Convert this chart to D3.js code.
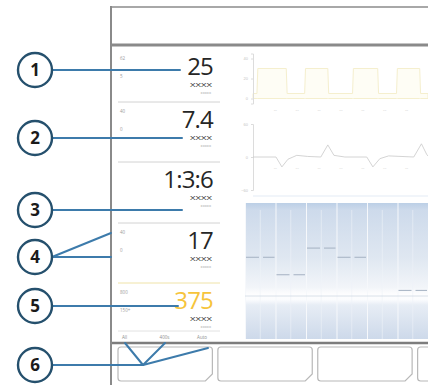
<!DOCTYPE html>
<html>
<head>
<meta charset="utf-8">
<script src="https://cdn.jsdelivr.net/npm/d3@7"></script>
<style>
  body { margin: 0; background: #fff; }
  svg { display: block; }
</style>
</head>
<body>
<div id="chart"></div>
<script>
// ---- data ----
const callouts = ["1", "2", "3", "4", "5", "6"];
const paramValues = ["25", "7.4", "1:3:6", "17", "375"];
const paramUnits = ["XXXX", "XXXX", "XXXX", "XXXX", "XXXX"];
const paramSubs = ["xxxxx", "xxxxx", "xxxxx", "xxxxx", "xxxxx"];
const limitHigh = ["62", "40", "", "40", "800"];
const limitLow = ["5", "0", "", "0", "150+"];
const footLabels = ["All", "400s", "Auto"];

const pressureTime = [0, 0.18, 0.22, 1.52, 1.56, 2.36, 2.4, 3.42, 3.46, 4.55, 4.59, 5.7, 5.74, 6.56, 6.6, 7.62, 7.66, 8];
const pressureValue = [5, 5, 30, 30, 5, 5, 30, 30, 5, 5, 30, 30, 5, 5, 30, 30, 5, 5];
const pressureTicks = [0, 20, 40];

const flowTime = [0, 1.05, 1.32, 1.6, 2.0, 2.5, 3.1, 3.42, 3.7, 4.2, 5.2, 5.48, 5.8, 6.2, 7.35, 7.7, 7.95, 8];
const flowValue = [0, 0, -18, -4, 3, 1, 0, 22, 3, 0, 0, -18, -3, 2, 0, 24, 4, 2];
const flowTicks = [-60, 0, 60];
const timeTicks = [1, 2, 3, 4, 5, 6, 7];

const volumeColumns = ["c1", "c2", "c3", "c4", "c5", "c6"];
const volumeLevels = [0.41, 0.22, 0.51, 0.41, null, 0.05];

const buttons = ["b1", "b2", "b3", "b4"];

// ---- layout ----
const W = 428, H = 385;
const frame = {left: 111, top: 7, header: 45, foot: 343};
const panelTops = [49, 102, 162, 223, 283];
const calloutY = [70, 138, 210, 257, 306, 365];
const lineColor = "#3d7bab";
const font = "'Open Sans', 'DejaVu Sans', sans-serif";

const svg = d3.select("#chart").append("svg")
  .attr("width", W).attr("height", H)
  .style("font-family", font);

const defs = svg.append("defs");
const grad = defs.append("linearGradient").attr("id", "vol")
  .attr("x1", 0).attr("y1", 0).attr("x2", 0).attr("y2", 1);
[["0%", "#bccfe6"], ["5%", "#cddaeb"], ["40%", "#dfe7f1"], ["62%", "#f2f5f9"],
 ["67%", "#fdfdfe"], ["71%", "#fbfcfe"], ["75%", "#e7edf5"], ["100%", "#cdd9ea"]]
  .forEach(([o, c]) => grad.append("stop").attr("offset", o).attr("stop-color", c));

// ---- waveform 1 (pressure) ----
const x = d3.scaleLinear().domain([0, 8]).range([253, 428]);
const yP = d3.scaleLinear().domain([-5, 45]).range([103.5, 53.5]);
const pData = pressureTime.map((t, i) => [t, pressureValue[i]]);

svg.append("path")
  .datum(pData)
  .attr("fill", "#fefdf5")
  .attr("stroke", "#f5efce")
  .attr("stroke-width", 1)
  .attr("d", d3.area().x(d => x(d[0])).y0(yP(0)).y1(d => yP(d[1])));

svg.append("g")
  .attr("transform", "translate(253,0)")
  .call(d3.axisLeft(yP).tickValues(pressureTicks).tickSize(2))
  .call(g => g.select(".domain").attr("stroke", "#dcdcdc"))
  .call(g => g.selectAll(".tick line").attr("stroke", "#dcdcdc"))
  .call(g => g.selectAll("text").attr("fill", "#c4c4c4").style("font-size", "4px"));

svg.append("g")
  .attr("transform", "translate(0,105)")
  .call(d3.axisBottom(x).tickValues(timeTicks).tickSize(0).tickFormat(() => "--"))
  .call(g => g.select(".domain").remove())
  .call(g => g.selectAll("text").attr("fill", "#d0d0d0").style("font-size", "5px"));

// ---- waveform 2 (flow) ----
const yF = d3.scaleLinear().domain([-60, 60]).range([190, 124]);
const fData = flowTime.map((t, i) => [t, flowValue[i]]);

svg.append("g")
  .attr("transform", "translate(253,0)")
  .call(d3.axisLeft(yF).tickValues(flowTicks).tickSize(2))
  .call(g => g.select(".domain").attr("stroke", "#dcdcdc"))
  .call(g => g.selectAll(".tick line").attr("stroke", "#dcdcdc"))
  .call(g => g.selectAll("text").attr("fill", "#c4c4c4").style("font-size", "4px"));

svg.append("line")
  .attr("x1", 253).attr("x2", 428).attr("y1", 196).attr("y2", 196)
  .attr("stroke", "#f1f5fa").attr("stroke-width", 2);

svg.append("path")
  .datum(fData)
  .attr("fill", "none")
  .attr("stroke", "#c9c9c9")
  .attr("stroke-width", 0.8)
  .attr("d", d3.line().x(d => x(d[0])).y(d => yF(d[1])));

svg.append("g")
  .attr("transform", "translate(0,163)")
  .call(d3.axisBottom(x).tickValues(timeTicks).tickSize(0).tickFormat(() => "--"))
  .call(g => g.select(".domain").remove())
  .call(g => g.selectAll("text").attr("fill", "#d4d4d4").style("font-size", "5px"));

// ---- volume panel ----
const xV = d3.scaleBand().domain(volumeColumns).range([245, 428]);
const yV = d3.scaleLinear().domain([0, 1]).range([295, 203]);

svg.append("rect")
  .attr("x", 245).attr("y", 203).attr("width", 183).attr("height", 136)
  .attr("fill", "url(#vol)");

const cols = svg.append("g").selectAll("g").data(volumeColumns).join("g");
cols.append("line")
  .attr("x1", d => xV(d) + 0.5).attr("x2", d => xV(d) + 0.5)
  .attr("y1", 203).attr("y2", 339)
  .attr("stroke", "#f6f8fb").attr("stroke-width", 1);
cols.append("line")
  .attr("x1", d => xV(d) + xV.bandwidth() * 0.5).attr("x2", d => xV(d) + xV.bandwidth() * 0.5)
  .attr("y1", 210).attr("y2", 339)
  .attr("stroke", "#eef3f9").attr("stroke-width", 0.6);
cols.filter((d, i) => volumeLevels[i] !== null)
  .append("line")
  .attr("x1", d => xV(d) + 1).attr("x2", d => xV(d) + xV.bandwidth() - 1)
  .attr("y1", d => yV(volumeLevels[volumeColumns.indexOf(d)]))
  .attr("y2", d => yV(volumeLevels[volumeColumns.indexOf(d)]))
  .attr("stroke", "#a4b1c2").attr("stroke-width", 1)
  .attr("stroke-dasharray", "13,4");

svg.append("line")
  .attr("x1", 245).attr("x2", 428).attr("y1", 296).attr("y2", 296)
  .attr("stroke", "#d0d9e4").attr("stroke-width", 0.8);

// ---- frame ----
svg.append("line").attr("x1", frame.left).attr("x2", W).attr("y1", frame.top).attr("y2", frame.top)
  .attr("stroke", "#a8a8a8").attr("stroke-width", 2);
svg.append("line").attr("x1", frame.left).attr("x2", W).attr("y1", frame.header).attr("y2", frame.header)
  .attr("stroke", "#8a8a8a").attr("stroke-width", 3);
svg.append("line").attr("x1", frame.left).attr("x2", W).attr("y1", frame.foot).attr("y2", frame.foot)
  .attr("stroke", "#7d7d7d").attr("stroke-width", 2.5);
svg.append("line").attr("x1", frame.left).attr("x2", frame.left).attr("y1", frame.top - 1).attr("y2", H)
  .attr("stroke", "#8a8a8a").attr("stroke-width", 2);

// ---- parameter panels ----
const panels = svg.append("g").selectAll("g").data(paramValues).join("g")
  .attr("transform", (d, i) => `translate(0,${panelTops[i]})`);

panels.filter((d, i) => i > 0).append("line")
  .attr("x1", 118).attr("x2", 220).attr("y1", 0).attr("y2", 0)
  .attr("stroke", (d, i) => i === 3 ? "#efe3a8" : "#d2d2d2").attr("stroke-width", 1);

panels.append("text")
  .attr("x", 213).attr("y", 26)
  .attr("text-anchor", "end")
  .attr("fill", (d, i) => i === 4 ? "#f6c43c" : "#262626")
  .style("font-size", "24px")
  .style("letter-spacing", "-0.8px")
  .text(d => d);

panels.append("text")
  .attr("x", 212).attr("y", 38)
  .attr("text-anchor", "end")
  .attr("fill", "#333")
  .attr("textLength", 22)
  .attr("lengthAdjust", "spacingAndGlyphs")
  .style("font-size", "6px")
  .text((d, i) => paramUnits[i]);

panels.append("text")
  .attr("x", 211).attr("y", 45)
  .attr("text-anchor", "end")
  .attr("fill", "#a5a5a5")
  .style("font-size", "4px")
  .text((d, i) => paramSubs[i]);

panels.append("text")
  .attr("x", 120).attr("y", 11)
  .attr("fill", "#9c9c9c")
  .style("font-size", "4.5px")
  .text((d, i) => limitHigh[i]);

panels.append("text")
  .attr("x", 120).attr("y", 29)
  .attr("fill", "#9c9c9c")
  .style("font-size", "4.5px")
  .text((d, i) => limitLow[i]);

svg.append("line").attr("x1", 118).attr("x2", 220).attr("y1", 331).attr("y2", 331)
  .attr("stroke", "#e2e2e2").attr("stroke-width", 1);

const xFoot = d3.scalePoint().domain(footLabels).range([122, 207]);
svg.append("g").selectAll("text").data(footLabels).join("text")
  .attr("x", d => xFoot(d)).attr("y", 339)
  .attr("text-anchor", (d, i) => i === 0 ? "start" : i === 2 ? "end" : "middle")
  .attr("fill", "#8c8c8c")
  .style("font-size", "4.5px")
  .text(d => d);

// ---- buttons ----
const xB = d3.scaleBand().domain(buttons).range([118, 512]).paddingInner(0.055);
svg.append("g").selectAll("path").data(buttons).join("path")
  .attr("d", d => {
    const x0 = xB(d), x1 = x0 + xB.bandwidth(), y0 = 347, y1 = 381;
    return `M${x0 + 3},${y0}H${x1 - 3}Q${x1},${y0} ${x1},${y0 + 3}V${y1 - 7}L${x1 - 7},${y1}H${x0 + 3}Q${x0},${y1} ${x0},${y1 - 3}V${y0 + 3}Q${x0},${y0} ${x0 + 3},${y0}Z`;
  })
  .attr("fill", "#fff")
  .attr("stroke", "#b8b8b8")
  .attr("stroke-width", 1.2);

// ---- callouts ----
const leaders = [
  [[52, calloutY[0]], [180, calloutY[0]]],
  [[52, calloutY[1]], [182, calloutY[1]]],
  [[52, calloutY[2]], [182, calloutY[2]]],
  [[52, calloutY[3]], [111, 233]],
  [[52, calloutY[3]], [111, calloutY[3]]],
  [[52, calloutY[4]], [178, calloutY[4]]],
  [[52, calloutY[5]], [143, calloutY[5]]],
  [[143, calloutY[5]], [125, 343]],
  [[143, calloutY[5]], [165, 343]],
  [[143, calloutY[5]], [208, 348]]
];
svg.append("g").selectAll("path").data(leaders).join("path")
  .attr("d", d3.line())
  .attr("fill", "none")
  .attr("stroke", lineColor)
  .attr("stroke-width", 2)
  .attr("stroke-linecap", "round");

const marks = svg.append("g").selectAll("g").data(callouts).join("g")
  .attr("transform", (d, i) => `translate(35,${calloutY[i]})`);
marks.append("circle")
  .attr("r", 17)
  .attr("fill", "#fff")
  .attr("stroke", "#25506d")
  .attr("stroke-width", 2.4);
marks.append("text")
  .attr("text-anchor", "middle")
  .attr("dy", "0.36em")
  .attr("fill", "#1b1b1b")
  .style("font-size", "17px")
  .style("font-weight", "bold")
  .text(d => d);
</script>
</body>
</html>
